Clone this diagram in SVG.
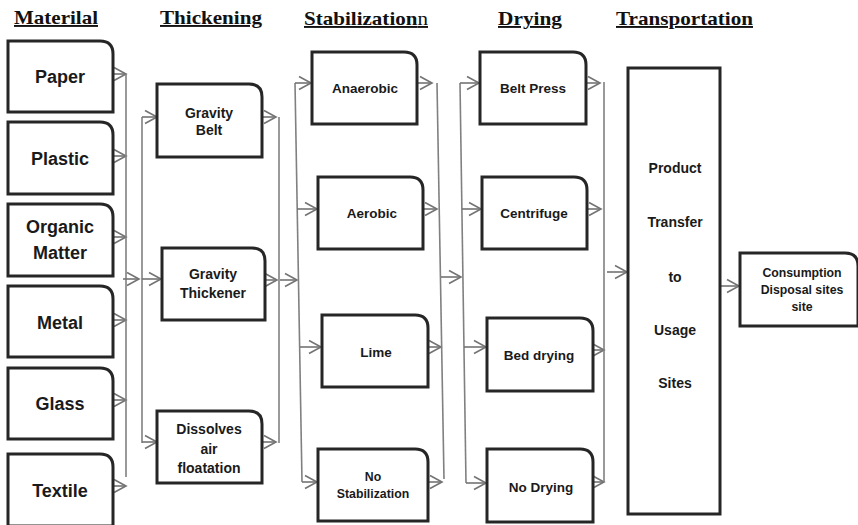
<svg xmlns="http://www.w3.org/2000/svg" width="858" height="525" viewBox="0 0 858 525">
  <style>
    .box { fill: #ffffff; stroke: #262626; stroke-width: 3; }
    .wire { fill: none; stroke: #808080; stroke-width: 1.6; }
    .arr { fill: none; stroke: #737373; stroke-width: 1.6; marker-end: url(#chev); }
    .hd { font-family: "Liberation Serif", "Times New Roman", serif; font-weight: bold; font-size: 19px; fill: #111; text-decoration: underline; }
    .lbl { font-family: "Liberation Sans", Arial, sans-serif; font-weight: bold; fill: #1a1a1a; text-anchor: middle; }
    .big { font-size: 18px; }
    .mid { font-size: 14px; }
    .sm { font-size: 13.5px; }
    .xs { font-size: 12.3px; }
  </style>
  <defs>
    <!-- open chevron arrowhead -->
    <marker id="chev" markerUnits="userSpaceOnUse" markerWidth="16" markerHeight="16" viewBox="0 0 16 16" refX="13" refY="8" orient="auto">
      <path d="M1,1.5 L13,8 L1,14.5" fill="none" stroke="#737373" stroke-width="1.6"/>
    </marker>
  </defs>

  <rect width="858" height="525" fill="#ffffff"/>

  <!-- column headings -->
  <g id="headings">
    <text class="hd" x="14" y="24" textLength="84" lengthAdjust="spacingAndGlyphs">Materilal</text>
    <text class="hd" x="160" y="24" textLength="102" lengthAdjust="spacingAndGlyphs">Thickening</text>
    <text class="hd" x="304" y="25" textLength="124" lengthAdjust="spacingAndGlyphs">Stabilization<tspan font-weight="normal">n</tspan></text>
    <text class="hd" x="498" y="25" textLength="64" lengthAdjust="spacingAndGlyphs">Drying</text>
    <text class="hd" x="616" y="25" textLength="137" lengthAdjust="spacingAndGlyphs">Transportation</text>
  </g>

  <!-- connectors -->
  <g id="connectors">
    <!-- material outputs to collector -->
    <line class="arr" x1="112" y1="74" x2="126" y2="74"/>
    <line class="arr" x1="112" y1="156" x2="126" y2="156"/>
    <line class="arr" x1="112" y1="237" x2="126" y2="237"/>
    <line class="arr" x1="112" y1="320" x2="126" y2="320"/>
    <line class="arr" x1="112" y1="400" x2="126" y2="400"/>
    <line class="arr" x1="112" y1="486" x2="126" y2="486"/>
    <line class="wire" x1="126" y1="74" x2="126" y2="477"/>
    <line class="arr" x1="123" y1="279" x2="139" y2="279"/>
    <!-- thickening distributor -->
    <line class="wire" x1="142" y1="117" x2="142" y2="443"/>
    <line class="arr" x1="142" y1="117" x2="157" y2="117"/>
    <line class="arr" x1="142" y1="279" x2="161" y2="279"/>
    <line class="arr" x1="142" y1="442" x2="157" y2="442"/>
    <!-- thickening outputs -->
    <line class="arr" x1="261" y1="117" x2="276" y2="117"/>
    <line class="arr" x1="264" y1="280" x2="277" y2="280"/>
    <line class="arr" x1="261" y1="442" x2="276" y2="442"/>
    <line class="wire" x1="279" y1="117" x2="279" y2="443"/>
    <line class="arr" x1="280" y1="280" x2="297" y2="280"/>
    <!-- stabilization distributor -->
    <line class="wire" x1="295" y1="83" x2="302" y2="482"/>
    <line class="arr" x1="295" y1="83" x2="311" y2="83"/>
    <line class="arr" x1="297" y1="209" x2="317" y2="209"/>
    <line class="arr" x1="300" y1="347" x2="321" y2="347"/>
    <line class="arr" x1="302" y1="482" x2="317" y2="482"/>
    <!-- stabilization outputs -->
    <line class="arr" x1="416" y1="83" x2="432" y2="83"/>
    <line class="arr" x1="422" y1="209" x2="437" y2="209"/>
    <line class="arr" x1="427" y1="347" x2="441" y2="347"/>
    <line class="arr" x1="427" y1="482" x2="442" y2="482"/>
    <line class="wire" x1="437" y1="83" x2="444" y2="479"/>
    <line class="arr" x1="441" y1="277" x2="461" y2="277"/>
    <!-- drying distributor -->
    <line class="wire" x1="460" y1="83" x2="466" y2="483"/>
    <line class="arr" x1="460" y1="83" x2="479" y2="83"/>
    <line class="arr" x1="462" y1="209" x2="481" y2="209"/>
    <line class="arr" x1="464" y1="347" x2="486" y2="347"/>
    <line class="arr" x1="466" y1="483" x2="486" y2="483"/>
    <!-- drying outputs -->
    <line class="arr" x1="585" y1="83" x2="600" y2="83"/>
    <line class="arr" x1="586" y1="209" x2="601" y2="209"/>
    <line class="arr" x1="592" y1="350" x2="604" y2="350"/>
    <line class="arr" x1="592" y1="482" x2="604" y2="482"/>
    <line class="wire" x1="604" y1="82" x2="604" y2="482"/>
    <line class="arr" x1="607" y1="272" x2="627" y2="272"/>
    <!-- transport to final sites -->
    <line class="arr" x1="720" y1="286" x2="739" y2="286"/>
  </g>

  <!-- material sources -->
  <g id="paper">
    <path class="box" d="M8,41 H100 Q113,41 113,54 V112 H8 Z"/>
    <text class="lbl big" x="60" y="83">Paper</text>
  </g>
  <g id="plastic">
    <path class="box" d="M8,122 H100 Q113,122 113,135 V194 H8 Z"/>
    <text class="lbl big" x="60" y="165">Plastic</text>
  </g>
  <g id="organic">
    <path class="box" d="M8,204 H100 Q113,204 113,217 V276 H8 Z"/>
    <text class="lbl big" x="60" y="233">Organic</text>
    <text class="lbl big" x="60" y="259">Matter</text>
  </g>
  <g id="metal">
    <path class="box" d="M8,286 H100 Q113,286 113,299 V357 H8 Z"/>
    <text class="lbl big" x="60" y="329">Metal</text>
  </g>
  <g id="glass">
    <path class="box" d="M8,368 H100 Q113,368 113,381 V439 H8 Z"/>
    <text class="lbl big" x="60" y="410">Glass</text>
  </g>
  <g id="textile">
    <path class="box" d="M8,454 H100 Q113,454 113,467 V526 H8 Z"/>
    <text class="lbl big" x="60" y="497">Textile</text>
  </g>

  <!-- thickening -->
  <g id="gravity-belt">
    <path class="box" d="M157,84 H249 Q262,84 262,97 V157 H157 Z"/>
    <text class="lbl mid" x="209" y="118">Gravity</text>
    <text class="lbl mid" x="209" y="135">Belt</text>
  </g>
  <g id="gravity-thickener">
    <path class="box" d="M162,248 H252 Q265,248 265,261 V320 H162 Z"/>
    <text class="lbl mid" x="213" y="279">Gravity</text>
    <text class="lbl mid" x="213" y="298">Thickener</text>
  </g>
  <g id="dissolved-air">
    <path class="box" d="M157,411 H249 Q262,411 262,424 V483 H157 Z"/>
    <text class="lbl mid" x="209" y="434">Dissolves</text>
    <text class="lbl mid" x="209" y="454">air</text>
    <text class="lbl mid" x="209" y="473">floatation</text>
  </g>

  <!-- stabilization -->
  <g id="anaerobic">
    <path class="box" d="M312,52 H404 Q417,52 417,65 V124 H312 Z"/>
    <text class="lbl sm" x="365" y="93">Anaerobic</text>
  </g>
  <g id="aerobic">
    <path class="box" d="M318,177 H410 Q423,177 423,190 V249 H318 Z"/>
    <text class="lbl sm" x="372" y="218">Aerobic</text>
  </g>
  <g id="lime">
    <path class="box" d="M322,315 H415 Q428,315 428,328 V387 H322 Z"/>
    <text class="lbl sm" x="376" y="357">Lime</text>
  </g>
  <g id="no-stabilization">
    <path class="box" d="M318,449 H415 Q428,449 428,462 V521 H318 Z"/>
    <text class="lbl xs" x="373" y="481">No</text>
    <text class="lbl xs" x="373" y="498">Stabilization</text>
  </g>

  <!-- drying -->
  <g id="belt-press">
    <path class="box" d="M480,52 H573 Q586,52 586,65 V124 H480 Z"/>
    <text class="lbl sm" x="533" y="93">Belt  Press</text>
  </g>
  <g id="centrifuge">
    <path class="box" d="M482,177 H574 Q587,177 587,190 V249 H482 Z"/>
    <text class="lbl sm" x="534" y="218">Centrifuge</text>
  </g>
  <g id="bed-drying">
    <path class="box" d="M487,318 H580 Q593,318 593,331 V391 H487 Z"/>
    <text class="lbl sm" x="539" y="360">Bed drying</text>
  </g>
  <g id="no-drying">
    <path class="box" d="M487,449 H580 Q593,449 593,462 V522 H487 Z"/>
    <text class="lbl sm" x="541" y="492">No Drying</text>
  </g>

  <!-- transportation -->
  <g id="transfer">
    <rect class="box" x="628" y="68" width="92" height="446"/>
    <text class="lbl mid" x="675" y="173">Product</text>
    <text class="lbl mid" x="675" y="227">Transfer</text>
    <text class="lbl mid" x="675" y="282">to</text>
    <text class="lbl mid" x="675" y="335">Usage</text>
    <text class="lbl mid" x="675" y="388">Sites</text>
  </g>
  <g id="consumption">
    <path class="box" d="M740,253 H845 Q858,253 858,266 V326 H740 Z"/>
    <text class="lbl xs" x="802" y="277">Consumption</text>
    <text class="lbl xs" x="802" y="294">Disposal sites</text>
    <text class="lbl xs" x="802" y="311">site</text>
  </g>
</svg>
